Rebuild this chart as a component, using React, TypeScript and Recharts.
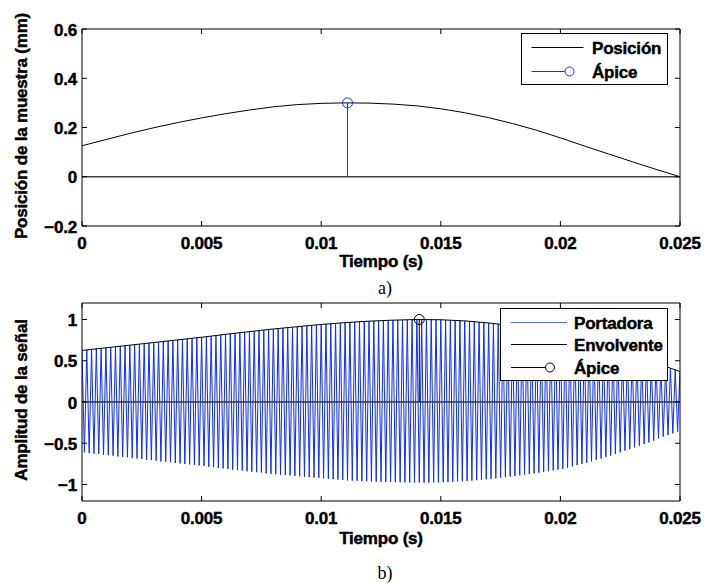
import React from 'react';
import { LineChart, Line, XAxis, YAxis } from 'recharts';

const SANS = '"Liberation Sans", Arial, Helvetica, sans-serif';
const SERIF = '"Liberation Serif", "Times New Roman", serif';

// Shared time axis
const timeTicks = [0, 0.005, 0.01, 0.015, 0.02, 0.025];
const timeTickLabels = ['0', '0.005', '0.01', '0.015', '0.02', '0.025'];
const sampleTimes = [
  0, 0.001, 0.002, 0.003, 0.004, 0.005, 0.006, 0.007, 0.008, 0.009, 0.01, 0.011, 0.012,
  0.013, 0.014, 0.015, 0.016, 0.017, 0.018, 0.019, 0.02, 0.021, 0.022, 0.023, 0.024, 0.025,
];

// (a) sample position
const positionTicks = [-0.2, 0, 0.2, 0.4, 0.6];
const positionTickLabels = ['\u22120.2', '0', '0.2', '0.4', '0.6'];
const positionValues = [
  0.126, 0.151, 0.176, 0.199, 0.22, 0.239, 0.256, 0.271, 0.284, 0.293, 0.298, 0.3, 0.299,
  0.295, 0.288, 0.276, 0.26, 0.24, 0.216, 0.189, 0.158, 0.125, 0.093, 0.061, 0.03, 0,
];
const positionApexTime = 0.0111;
const positionApexValue = 0.3;

// (b) signal amplitude
const amplitudeTicks = [-1, -0.5, 0, 0.5, 1];
const amplitudeTickLabels = ['\u22121', '\u22120.5', '0', '0.5', '1'];
const envelopeValues = [
  0.625, 0.657, 0.689, 0.721, 0.753, 0.785, 0.82, 0.853, 0.885, 0.913, 0.94, 0.962, 0.98,
  0.992, 1.0, 0.997, 0.983, 0.958, 0.925, 0.885, 0.84, 0.77, 0.68, 0.58, 0.47, 0.37,
];
const envelopeApexTime = 0.0141;
const envelopeApexValue = 1;

// carrier: positive crests every 0.2 ms, negative troughs in between
const carrierHalfPeriod = 0.0001;
const carrierHigh = [
  0.625, 0.63, 0.64, 0.645, 0.65,
  0.657, 0.66, 0.67, 0.675, 0.68,
  0.689, 0.695, 0.7, 0.71, 0.715,
  0.721, 0.727, 0.734, 0.74, 0.747,
  0.753, 0.76, 0.766, 0.772, 0.779,
  0.785, 0.792, 0.799, 0.806, 0.813,
  0.82, 0.827, 0.833, 0.84, 0.846,
  0.853, 0.859, 0.866, 0.872, 0.879,
  0.885, 0.89, 0.896, 0.902, 0.907,
  0.913, 0.918, 0.924, 0.929, 0.935,
  0.94, 0.944, 0.949, 0.953, 0.958,
  0.962, 0.966, 0.969, 0.973, 0.976,
  0.98, 0.982, 0.985, 0.987, 0.99,
  0.992, 0.994, 0.995, 0.997, 0.998,
  1.0, 1.0, 0.999, 0.998, 0.998,
  0.997, 0.994, 0.991, 0.989, 0.986,
  0.983, 0.978, 0.973, 0.968, 0.963,
  0.958, 0.951, 0.945, 0.938, 0.932,
  0.925, 0.917, 0.909, 0.901, 0.893,
  0.885, 0.876, 0.867, 0.858, 0.849,
  0.84, 0.826, 0.812, 0.798, 0.784,
  0.77, 0.752, 0.734, 0.716, 0.698,
  0.68, 0.66, 0.64, 0.62, 0.6,
  0.58, 0.558, 0.536, 0.514, 0.492,
  0.47, 0.45, 0.43, 0.41, 0.39,
  0.37,
];
const carrierLow = [
  -0.61, -0.62, -0.625, -0.63, -0.64,
  -0.645, -0.65, -0.66, -0.665, -0.67,
  -0.68, -0.685, -0.69, -0.7, -0.705,
  -0.71, -0.72, -0.725, -0.73, -0.74,
  -0.745, -0.75, -0.755, -0.765, -0.77,
  -0.775, -0.785, -0.79, -0.8, -0.805,
  -0.81, -0.82, -0.825, -0.83, -0.84,
  -0.845, -0.85, -0.855, -0.865, -0.87,
  -0.875, -0.88, -0.885, -0.89, -0.895,
  -0.9, -0.905, -0.91, -0.915, -0.92,
  -0.925, -0.93, -0.935, -0.94, -0.945,
  -0.95, -0.952, -0.955, -0.958, -0.96,
  -0.962, -0.965, -0.967, -0.968, -0.97,
  -0.972, -0.973, -0.974, -0.975, -0.976,
  -0.977, -0.977, -0.976, -0.975, -0.974,
  -0.972, -0.97, -0.967, -0.964, -0.96,
  -0.956, -0.952, -0.947, -0.942, -0.937,
  -0.931, -0.925, -0.918, -0.911, -0.904,
  -0.897, -0.889, -0.881, -0.873, -0.865,
  -0.856, -0.847, -0.838, -0.829, -0.82,
  -0.81, -0.795, -0.78, -0.765, -0.75,
  -0.735, -0.72, -0.7, -0.685, -0.665,
  -0.65, -0.63, -0.61, -0.59, -0.57,
  -0.55, -0.53, -0.51, -0.49, -0.47,
  -0.44, -0.42, -0.4, -0.38, -0.36,
];

const positionData = sampleTimes.map((t, i) => ({ t, v: positionValues[i] }));
const envelopeData = sampleTimes.map((t, i) => ({ t, v: envelopeValues[i] }));
const carrierData: { t: number; v: number }[] = [];
for (let i = 0; i < carrierHigh.length; i++) {
  carrierData.push({ t: 2 * i * carrierHalfPeriod, v: carrierHigh[i] });
  if (i < carrierLow.length) carrierData.push({ t: (2 * i + 1) * carrierHalfPeriod, v: carrierLow[i] });
}
const positionStem = [
  { t: positionApexTime, v: 0 },
  { t: positionApexTime, v: positionApexValue },
];
const envelopeStem = [
  { t: envelopeApexTime, v: 0 },
  { t: envelopeApexTime, v: envelopeApexValue },
];
const zeroLine = [
  { t: 0, v: 0 },
  { t: 0.025, v: 0 },
];

const TICK_LEN = 5;
const labelFor = (ticks: number[], labels: string[], value: number) => {
  const i = ticks.indexOf(value);
  return i >= 0 ? labels[i] : String(value);
};

// heavy bold lettering: bold face plus a thin outline
const heavy = {
  fontFamily: SANS,
  fontWeight: 700,
  fontSize: 17,
  fill: '#000',
  stroke: '#000',
  strokeWidth: 0.45,
  letterSpacing: -0.2,
} as const;

const bottomTick = (labels: string[]) => (p: any) => (
  <g key={`b${p.index}`}>
    <line x1={p.x} y1={p.y} x2={p.x} y2={p.y - TICK_LEN} stroke="#000" />
    <text x={p.x} y={p.y + 23} textAnchor="middle" {...heavy}>
      {labelFor(timeTicks, labels, p.payload.value)}
    </text>
  </g>
);
const topTick = (p: any) => (
  <line key={`t${p.index}`} x1={p.x} y1={p.y} x2={p.x} y2={p.y + TICK_LEN} stroke="#000" />
);
const leftTick = (ticks: number[], labels: string[]) => (p: any) => (
  <g key={`l${p.index}`}>
    <line x1={p.x} y1={p.y} x2={p.x + TICK_LEN} y2={p.y} stroke="#000" />
    <text x={p.x - 5} y={p.y + 6.5} textAnchor="end" {...heavy}>
      {labelFor(ticks, labels, p.payload.value)}
    </text>
  </g>
);
const rightTick = (p: any) => (
  <line key={`r${p.index}`} x1={p.x} y1={p.y} x2={p.x - TICK_LEN} y2={p.y} stroke="#000" />
);

const apexDot = (color: string) => (p: any) =>
  p.index === 1 ? (
    <circle key={`d${p.index}`} cx={p.cx} cy={p.cy} r={5} fill="none" stroke={color} strokeWidth={1} />
  ) : (
    <g key={`d${p.index}`} />
  );

// each axis occupies 1px; chart margins are reduced by the same amount
const AXIS = 1;

const Frame = ({ yTicks, yLabels, yDomain }: { yTicks: number[]; yLabels: string[]; yDomain: [number, number] }) => [
  <XAxis
    key="xb"
    xAxisId="b"
    dataKey="t"
    type="number"
    domain={[0, 0.025]}
    ticks={timeTicks}
    interval={0}
    height={AXIS}
    tickSize={0}
    tickMargin={0}
    tickLine={false}
    axisLine={{ stroke: '#000' }}
    tick={bottomTick(timeTickLabels)}
    allowDataOverflow
  />,
  <XAxis
    key="xt"
    xAxisId="t"
    orientation="top"
    dataKey="t"
    type="number"
    domain={[0, 0.025]}
    ticks={timeTicks}
    interval={0}
    height={AXIS}
    tickSize={0}
    tickMargin={0}
    tickLine={false}
    axisLine={{ stroke: '#000' }}
    tick={topTick}
    allowDataOverflow
  />,
  <YAxis
    key="yl"
    yAxisId="l"
    type="number"
    domain={yDomain}
    ticks={yTicks}
    interval={0}
    width={AXIS}
    tickSize={0}
    tickMargin={0}
    tickLine={false}
    axisLine={{ stroke: '#000' }}
    tick={leftTick(yTicks, yLabels)}
    allowDataOverflow
  />,
  <YAxis
    key="yr"
    yAxisId="r"
    orientation="right"
    type="number"
    domain={yDomain}
    ticks={yTicks}
    interval={0}
    width={AXIS}
    tickSize={0}
    tickMargin={0}
    tickLine={false}
    axisLine={{ stroke: '#000' }}
    tick={rightTick}
    allowDataOverflow
  />,
];

export default function App() {
  return (
    <div style={{ position: 'absolute', left: 0, top: 0, width: 706, height: 583, background: '#fff' }}>
      <div style={{ position: 'absolute', left: 0, top: 0 }}>
        <LineChart width={706} height={290} margin={{ top: 29 - AXIS, right: 26 - AXIS, bottom: 64 - AXIS, left: 82 - AXIS }}>
          {Frame({ yTicks: positionTicks, yLabels: positionTickLabels, yDomain: [-0.2, 0.6] })}
          {/* invisible series keep the mirror axes tied to the chart */}
          <Line xAxisId="t" yAxisId="r" data={zeroLine} dataKey="v" stroke="none" dot={false} isAnimationActive={false} />
          <Line xAxisId="b" yAxisId="l" data={zeroLine} dataKey="v" stroke="#444" strokeWidth={1.3} dot={false} isAnimationActive={false} />
          <Line xAxisId="b" yAxisId="l" data={positionData} dataKey="v" stroke="#000" strokeWidth={1} dot={false} isAnimationActive={false} />
          <Line xAxisId="b" yAxisId="l" data={positionStem} dataKey="v" stroke="#1030ff" strokeWidth={1} dot={apexDot('#1030ff')} isAnimationActive={false} />
        </LineChart>
      </div>
      <div style={{ position: 'absolute', left: 0, top: 290 }}>
        <LineChart width={706} height={293} margin={{ top: 13 - AXIS, right: 26 - AXIS, bottom: 82 - AXIS, left: 82 - AXIS }}>
          {Frame({ yTicks: amplitudeTicks, yLabels: amplitudeTickLabels, yDomain: [-1.2, 1.2] })}
          <Line xAxisId="t" yAxisId="r" data={zeroLine} dataKey="v" stroke="none" dot={false} isAnimationActive={false} />
          <Line xAxisId="b" yAxisId="l" data={carrierData} dataKey="v" stroke="#0a2cff" strokeWidth={1} dot={false} isAnimationActive={false} />
          <Line xAxisId="b" yAxisId="l" data={envelopeData} dataKey="v" stroke="#000" strokeWidth={1} dot={false} isAnimationActive={false} />
          <Line xAxisId="b" yAxisId="l" data={zeroLine} dataKey="v" stroke="#333" strokeWidth={1.4} dot={false} isAnimationActive={false} />
          <Line xAxisId="b" yAxisId="l" data={envelopeStem} dataKey="v" stroke="#000" strokeWidth={1} dot={apexDot('#000')} isAnimationActive={false} />
        </LineChart>
      </div>
      <svg width={706} height={583} style={{ position: 'absolute', left: 0, top: 0, pointerEvents: 'none' }}>
        {/* axis titles */}
        <text x={381} y={267} textAnchor="middle" {...heavy}>Tiempo (s)</text>
        <text x={381} y={544} textAnchor="middle" {...heavy}>Tiempo (s)</text>
        <text transform="translate(27,126) rotate(-90)" textAnchor="middle" {...heavy}>Posición de la muestra (mm)</text>
        <text transform="translate(27,400) rotate(-90)" textAnchor="middle" {...heavy}>Amplitud de la señal</text>
        <text x={385} y={294} textAnchor="middle" fontFamily={SERIF} fontSize={18} fill="#000">a)</text>
        <text x={385} y={579} textAnchor="middle" fontFamily={SERIF} fontSize={18} fill="#000">b)</text>

        {/* legend (a) */}
        <rect x={521.5} y={33.5} width={146} height={51} fill="#fff" stroke="#000" strokeWidth={1} />
        <line x1={531.5} y1={47.5} x2={583.5} y2={47.5} stroke="#000" />
        <text x={592} y={53.5} {...heavy}>Posición</text>
        <line x1={531.5} y1={71.5} x2={565} y2={71.5} stroke="#1030ff" />
        <circle cx={569.5} cy={71.5} r={4.5} fill="#fff" stroke="#1030ff" />
        <text x={592} y={77.5} {...heavy}>Ápice</text>

        {/* legend (b) */}
        <rect x={500.5} y={308.5} width={167} height={72} fill="#fff" stroke="#000" strokeWidth={1} />
        <line x1={511} y1={322.5} x2={567} y2={322.5} stroke="#4f6fff" />
        <text x={574} y={328.5} {...heavy}>Portadora</text>
        <line x1={511} y1={344.5} x2={567} y2={344.5} stroke="#000" />
        <text x={574} y={350.5} {...heavy}>Envolvente</text>
        <line x1={511} y1={367.5} x2={545.5} y2={367.5} stroke="#000" />
        <circle cx={550} cy={367.5} r={4.5} fill="#fff" stroke="#000" />
        <text x={574} y={373.5} {...heavy}>Ápice</text>
      </svg>
    </div>
  );
}
